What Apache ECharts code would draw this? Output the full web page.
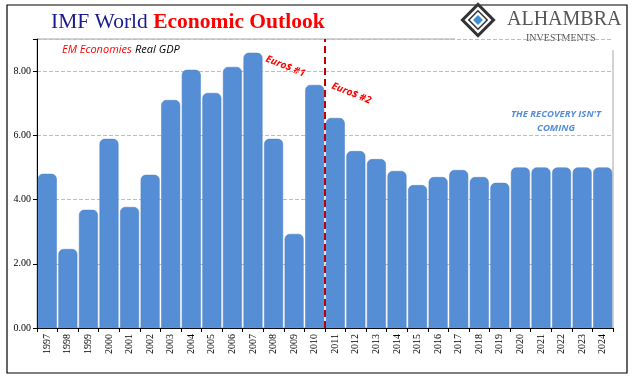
<!DOCTYPE html>
<html><head><meta charset="utf-8">
<script src="https://cdn.jsdelivr.net/npm/echarts@6/dist/echarts.min.js"></script>
<style>html,body{margin:0;padding:0;background:#fff}#c{width:640px;height:380px}</style>
</head><body><div id="c"></div>
<script>
const years = ['1997','1998','1999','2000','2001','2002','2003','2004','2005','2006','2007','2008','2009','2010','2011','2012','2013','2014','2015','2016','2017','2018','2019','2020','2021','2022','2023','2024'];
const gdp = [4.80,2.46,3.68,5.89,3.77,4.77,7.10,8.04,7.32,8.13,8.57,5.89,2.93,7.57,6.54,5.51,5.26,4.89,4.45,4.70,4.92,4.70,4.52,5.00,5.00,5.00,5.00,5.00];
const yTicks = [0,2,4,6,8];
const dividerPos = 14; // boundary between 2010 and 2011 (category units)

const chart = echarts.init(document.getElementById('c'));
chart.setOption({
  animation:false,
  backgroundColor:'#fff',
  grid:{left:37,right:27,top:39,bottom:52,show:true,borderColor:'#a6a6a6',borderWidth:1,backgroundColor:'transparent'},
  xAxis:[{
    type:'category',data:years,
    axisLine:{lineStyle:{color:'#000'}},
    axisTick:{show:true,length:4,lineStyle:{color:'#000'},alignWithLabel:false},
    axisLabel:{rotate:90,fontFamily:'Liberation Serif',fontSize:10,color:'#000',interval:0,margin:6}
  },{
    type:'value',min:0,max:years.length,show:false
  }],
  yAxis:{
    type:'value',min:0,max:9,interval:2,
    axisLine:{show:true,lineStyle:{color:'#000'}},
    axisTick:{show:true,length:4,lineStyle:{color:'#000'}},
    axisLabel:{formatter:v=>yTicks.includes(v)?v.toFixed(2):'',fontFamily:'Liberation Serif',fontSize:10,color:'#000',margin:6},
    splitLine:{lineStyle:{color:'#bdbdbd',type:'dashed'}}
  },
  series:[{
    type:'bar',data:gdp,barCategoryGap:'8%',
    itemStyle:{color:'#558ed5',borderRadius:[5,5,0,0],borderColor:'#4a7fc4',borderWidth:0.5}
  },{
    type:'line',xAxisIndex:1,data:[[dividerPos,0],[dividerPos,9]],symbol:'none',
    lineStyle:{color:'#c00000',width:2,type:[7,4]},z:5
  }],
  graphic:[
    {type:'rect',shape:{x:7,y:5,width:620,height:368},style:{fill:'none',stroke:'#000',lineWidth:1.2},silent:true},
    {type:'text',left:51,top:11,style:{rich:{a:{fontFamily:'Liberation Serif',fontSize:21.5,fill:'#1a1a8c'},b:{fontFamily:'Liberation Serif',fontSize:21.5,fontWeight:'bold',fill:'#ff0000'}},text:'{a|IMF World }{b|Economic Outlook}'}},
    {type:'rect',shape:{x:455,y:8,width:170,height:42},style:{fill:'#fff'}},
    {type:'rect',shape:{x:-11,y:-11,width:22,height:22},x:478,y:20,rotation:Math.PI/4,style:{fill:'#fff',stroke:'#333',lineWidth:3}},
    {type:'rect',shape:{x:-6.5,y:-6.5,width:13,height:13},x:478,y:20,rotation:Math.PI/4,style:{fill:'none',stroke:'#333',lineWidth:1.5}},
    {type:'rect',shape:{x:-3.5,y:-3.5,width:7,height:7},x:478,y:20,rotation:Math.PI/4,style:{fill:'#3d8fd6'}},
    {type:'text',left:507,top:10,style:{text:'ALHAMBRA',fontFamily:'Liberation Serif',fontSize:20,fill:'#555'}},
    {type:'text',left:526,top:33,style:{text:'INVESTMENTS',fontFamily:'Liberation Serif',fontSize:10,fill:'#555'}},
    {type:'text',left:62,top:44,style:{rich:{r:{fontFamily:'Open Sans',fontSize:11,fontStyle:'italic',fill:'#ff0000'},k:{fontFamily:'Open Sans',fontSize:11,fontStyle:'italic',fill:'#000'}},text:'{r|EM Economies} {k|Real GDP}'}},
    {type:'text',x:268,y:54,rotation:-0.38,style:{text:'Euro$ #1',fontFamily:'Open Sans',fontSize:10,fontStyle:'italic',fontWeight:'bold',fill:'#ff0000'}},
    {type:'text',x:334,y:81,rotation:-0.38,style:{text:'Euro$ #2',fontFamily:'Open Sans',fontSize:10,fontStyle:'italic',fontWeight:'bold',fill:'#ff0000'}},
    {type:'text',x:556,y:107,style:{text:"THE RECOVERY ISN'T\nCOMING",align:'center',lineHeight:14,fontFamily:'Open Sans',fontSize:9.5,fontStyle:'italic',fontWeight:'bold',fill:'#558ed5'}}
  ]
});
</script></body></html>
